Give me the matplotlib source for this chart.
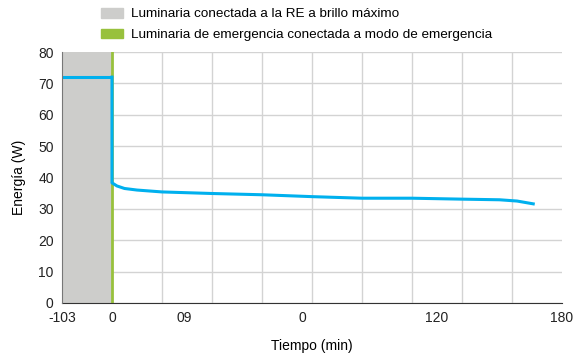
import numpy as np
import matplotlib.pyplot as plt
from matplotlib.patches import Patch

plt.rcParams['font.family'] = ['Liberation Sans', 'DejaVu Sans']

# tiempo (min) y energía (W); la zona gris ocupa una celda comprimida (-20..0)
t_pre = [-20, 0]
e_pre = [72, 72]
t = [0, 0, 2, 5, 10, 20, 40, 60, 80, 100, 120, 140, 155, 162, 168.5]
e = [72, 38.3, 37.3, 36.5, 36.0, 35.4, 34.9, 34.5, 33.9, 33.4, 33.4, 33.1, 32.9, 32.5, 31.6]

tick_pos = [-20, 0, 29, 76, 130, 180]
tick_lab = ["-103", "0", "09", "0", "120", "180"]
grid_x = np.arange(-20, 181, 20)
y_ticks = np.arange(0, 81, 10)

labels = ["Luminaria conectada a la RE a brillo máximo",
          "Luminaria de emergencia conectada a modo de emergencia"]
grey = "#cdcdcb"
green = "#98c13d"
blue = "#00b0ee"

fig = plt.figure(figsize=(5.81, 3.59), dpi=100)
ax = fig.add_axes([62 / 581, 1 - 303 / 359, 500 / 581, 251 / 359])

ax.axvspan(-20, 0, color=grey, zorder=1, lw=0)
ax.axvline(0, color=green, lw=2, zorder=2)
ax.plot(t_pre, e_pre, color=blue, lw=2.2, zorder=3, solid_capstyle='butt')
ax.plot(t, e, color=blue, lw=2.2, zorder=3, solid_joinstyle='round')

ax.set_xlim(-20, 180)
ax.set_ylim(0, 80)
ax.set_xticks(grid_x, minor=True)
ax.set_xticks(tick_pos)
ax.set_xticklabels(tick_lab)
ax.set_yticks(y_ticks)
ax.tick_params(which='both', length=0, labelsize=10, colors="#222222", pad=6)
ax.grid(which='minor', axis='x', color="#d3d3d3", lw=1, zorder=0)
ax.grid(which='major', axis='y', color="#d3d3d3", lw=1, zorder=0)
ax.grid(which='major', axis='x', visible=False)
ax.set_axisbelow(True)

for s in ['top', 'right']:
    ax.spines[s].set_visible(False)
ax.spines['left'].set_color("#777777")
ax.spines['bottom'].set_color("#333333")
ax.spines['left'].set_zorder(4)

ax.set_xlabel("Tiempo (min)", fontsize=10, labelpad=10)
ax.set_ylabel("Energía (W)", fontsize=10, labelpad=9)

handles = [Patch(color=grey), Patch(color=green)]
fig.legend(handles, labels, loc='upper left', bbox_to_anchor=(0.153, 1.012),
           frameon=False, fontsize=9.7, handlelength=1.6, handleheight=0.75,
           labelspacing=0.6, handletextpad=0.6)

fig.savefig("out.png", dpi=100)
